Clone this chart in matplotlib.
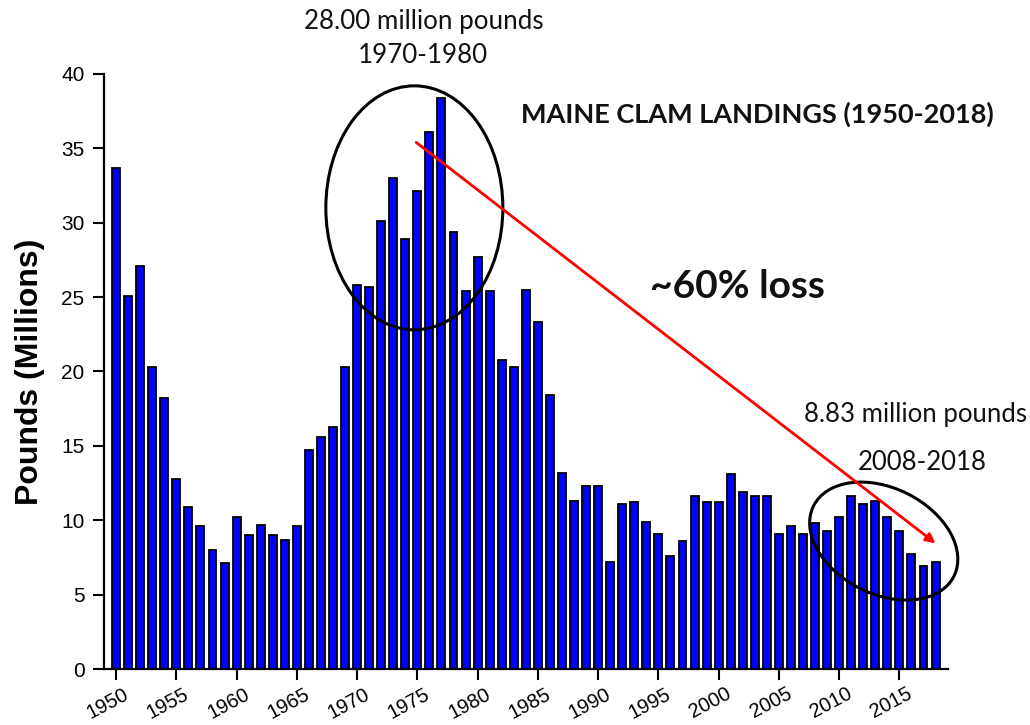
import matplotlib
matplotlib.use('Agg')
import matplotlib.pyplot as plt
from matplotlib.patches import Ellipse
from matplotlib.transforms import ScaledTranslation

years = list(range(1950, 2019))
landings = [33.7, 25.1, 27.1, 20.3, 18.2, 12.8, 10.9, 9.6, 8.0, 7.1,
            10.2, 9.0, 9.7, 9.0, 8.7, 9.6, 14.7, 15.6, 16.3, 20.3,
            25.8, 25.7, 30.1, 33.0, 28.9, 32.1, 36.1, 38.4, 29.4, 25.4,
            27.7, 25.4, 20.8, 20.3, 25.5, 23.3, 18.4, 13.2, 11.3, 12.3,
            12.3, 7.2, 11.1, 11.2, 9.9, 9.1, 7.6, 8.6, 11.6, 11.2,
            11.2, 13.1, 11.9, 11.6, 11.6, 9.1, 9.6, 9.1, 9.8, 9.3,
            10.2, 11.6, 11.1, 11.3, 10.2, 9.3, 7.7, 6.9, 7.2]
xticks = list(range(1950, 2016, 5))
yticks = list(range(0, 41, 5))

fig = plt.figure(figsize=(10.3, 7.25), dpi=100)
ax = fig.add_axes([0.101, 0.0772, 0.819, 0.8208])

ax.bar(years, landings, width=0.66, color='#0000FF', edgecolor='black', linewidth=1.3)
ax.set_xlim(1949, 2019)
ax.set_ylim(0, 40)
ax.set_xticks(xticks)
ax.set_yticks(yticks)
ax.set_xticklabels([str(y) for y in xticks], rotation=28, ha='right',
                   rotation_mode='anchor', family='Liberation Sans', fontsize=14.5)
ax.set_yticklabels([str(v) for v in yticks], family='Liberation Sans', fontsize=15)
ax.tick_params(axis='both', direction='out', length=8, width=1.5, color='black')
ax.tick_params(axis='y', pad=6)
ax.tick_params(axis='x', pad=3)
# labels sit a little right of their ticks
shift = ScaledTranslation(0.07, 0, fig.dpi_scale_trans)
for lab in ax.get_xticklabels():
    lab.set_transform(lab.get_transform() + shift)
for s in ['top', 'right']:
    ax.spines[s].set_visible(False)
for s in ['left', 'bottom']:
    ax.spines[s].set_linewidth(1.6)

ax.set_ylabel('Pounds (Millions)', family='Liberation Sans', fontsize=23,
              fontweight='bold')
ax.yaxis.set_label_coords(-0.07, 0.5)

# circles around the two periods, sized in inches
def ring(xd, yd, w, h, angle):
    tr = fig.dpi_scale_trans + ScaledTranslation(xd, yd, ax.transData)
    e = Ellipse((0, 0), w, h, angle=angle, transform=tr, fill=False,
                edgecolor='black', linewidth=2.2, clip_on=False)
    ax.add_artist(e)

ring(1974.75, 31.0, 1.77, 2.44, 0)
ring(2013.7, 8.6, 1.57, 1.06, -26.6)

ax.annotate('', xy=(2018.0, 8.45), xytext=(1974.9, 35.4),
            arrowprops=dict(arrowstyle='-|>', color='#FF0000', lw=2,
                            mutation_scale=14, shrinkA=0, shrinkB=0))

txt = dict(family='Lato', color='#111111', ha='center', va='center', clip_on=False)
ax.text(1975.5, 43.5, '28.00 million pounds', fontsize=18.7, **txt)
ax.text(1975.5, 41.25, '1970-1980', fontsize=18.7, **txt)
ax.text(2003.2, 37.3, 'MAINE CLAM LANDINGS (1950-2018)', fontsize=19.5, fontweight='bold', **txt)
ax.text(2001.6, 25.7, '~60% loss', fontsize=28, fontweight='bold', **txt)
ax.text(2016.3, 17.1, '8.83 million pounds', fontsize=18.5, **txt)
ax.text(2016.9, 13.9, '2008-2018', fontsize=18.5, **txt)

fig.savefig('out.png', dpi=100)
